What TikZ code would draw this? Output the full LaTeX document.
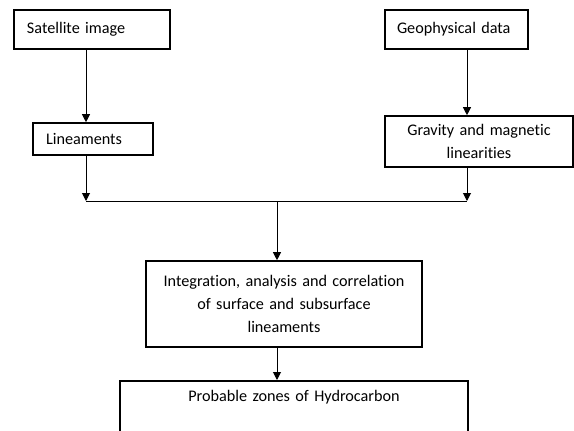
\documentclass[tikz,border=0pt]{standalone}
\usepackage{fontspec}
\setmainfont{Carlito}[Ligatures={NoCommon}]
\usetikzlibrary{arrows.meta, positioning}

\begin{document}
\begin{tikzpicture}[x=1pt, y=-1pt, >={Triangle[length=8pt,width=8pt]}, font=\fontsize{16.2}{23}\selectfont]

  % Define styles
  \tikzstyle{stepbox} = [rectangle, draw=black, line width=1.6pt, inner ysep=0pt, minimum height=32pt]
  \tikzstyle{leftbox} = [stepbox, align=left, inner xsep=13pt]
  \tikzstyle{midbox} = [stepbox, align=center, inner xsep=12pt]
  \tikzstyle{arrow} = [draw, line width=1pt, ->]
  \tikzstyle{line} = [draw, line width=1pt]

  \path[use as bounding box, clip] (0,0) rectangle (574,431);

  % Place nodes
  \node [leftbox, text width=130pt, minimum height=39pt] (sat) at (92,29.5) {Satellite image};
  \node [leftbox, text width=94pt] (lin) at (93,139) {Lineaments};
  \node [leftbox, text width=119pt, inner xsep=12pt, minimum height=39pt] (geo) at (456.5,29.5) {Geophysical data};
  \node [midbox, text width=164pt, minimum height=51pt] (grav) at (479,141.5) {Gravity and magnetic\\linearities};
  \node [midbox, text width=252pt, minimum height=86pt] (integ) at (284,304) {Integration, analysis and correlation\\of surface and subsurface\\lineaments};
  \node [midbox, text width=324pt, anchor=north, text height=14pt, text depth=80pt, inner ysep=7pt] (prob) at (294,380) {Probable zones of Hydrocarbon};

  % Junction points
  \coordinate (jl) at (86,201);
  \coordinate (jm) at (277,201);
  \coordinate (jr) at (467,201);

  % Draw edges
  \path [arrow] (sat.south -| jl) -- (lin.north -| jl);
  \path [arrow] (geo.south -| jr) -- (grav.north -| jr);
  \path [arrow] (lin.south -| jl) -- (jl);
  \path [arrow] (grav.south -| jr) -- (jr);
  \path [line] (jl) -- (jr);
  \path [arrow] (jm) -- (integ.north -| jm);
  \path [arrow] (integ.south -| jm) -- (prob.north -| jm);

\end{tikzpicture}
\end{document}
